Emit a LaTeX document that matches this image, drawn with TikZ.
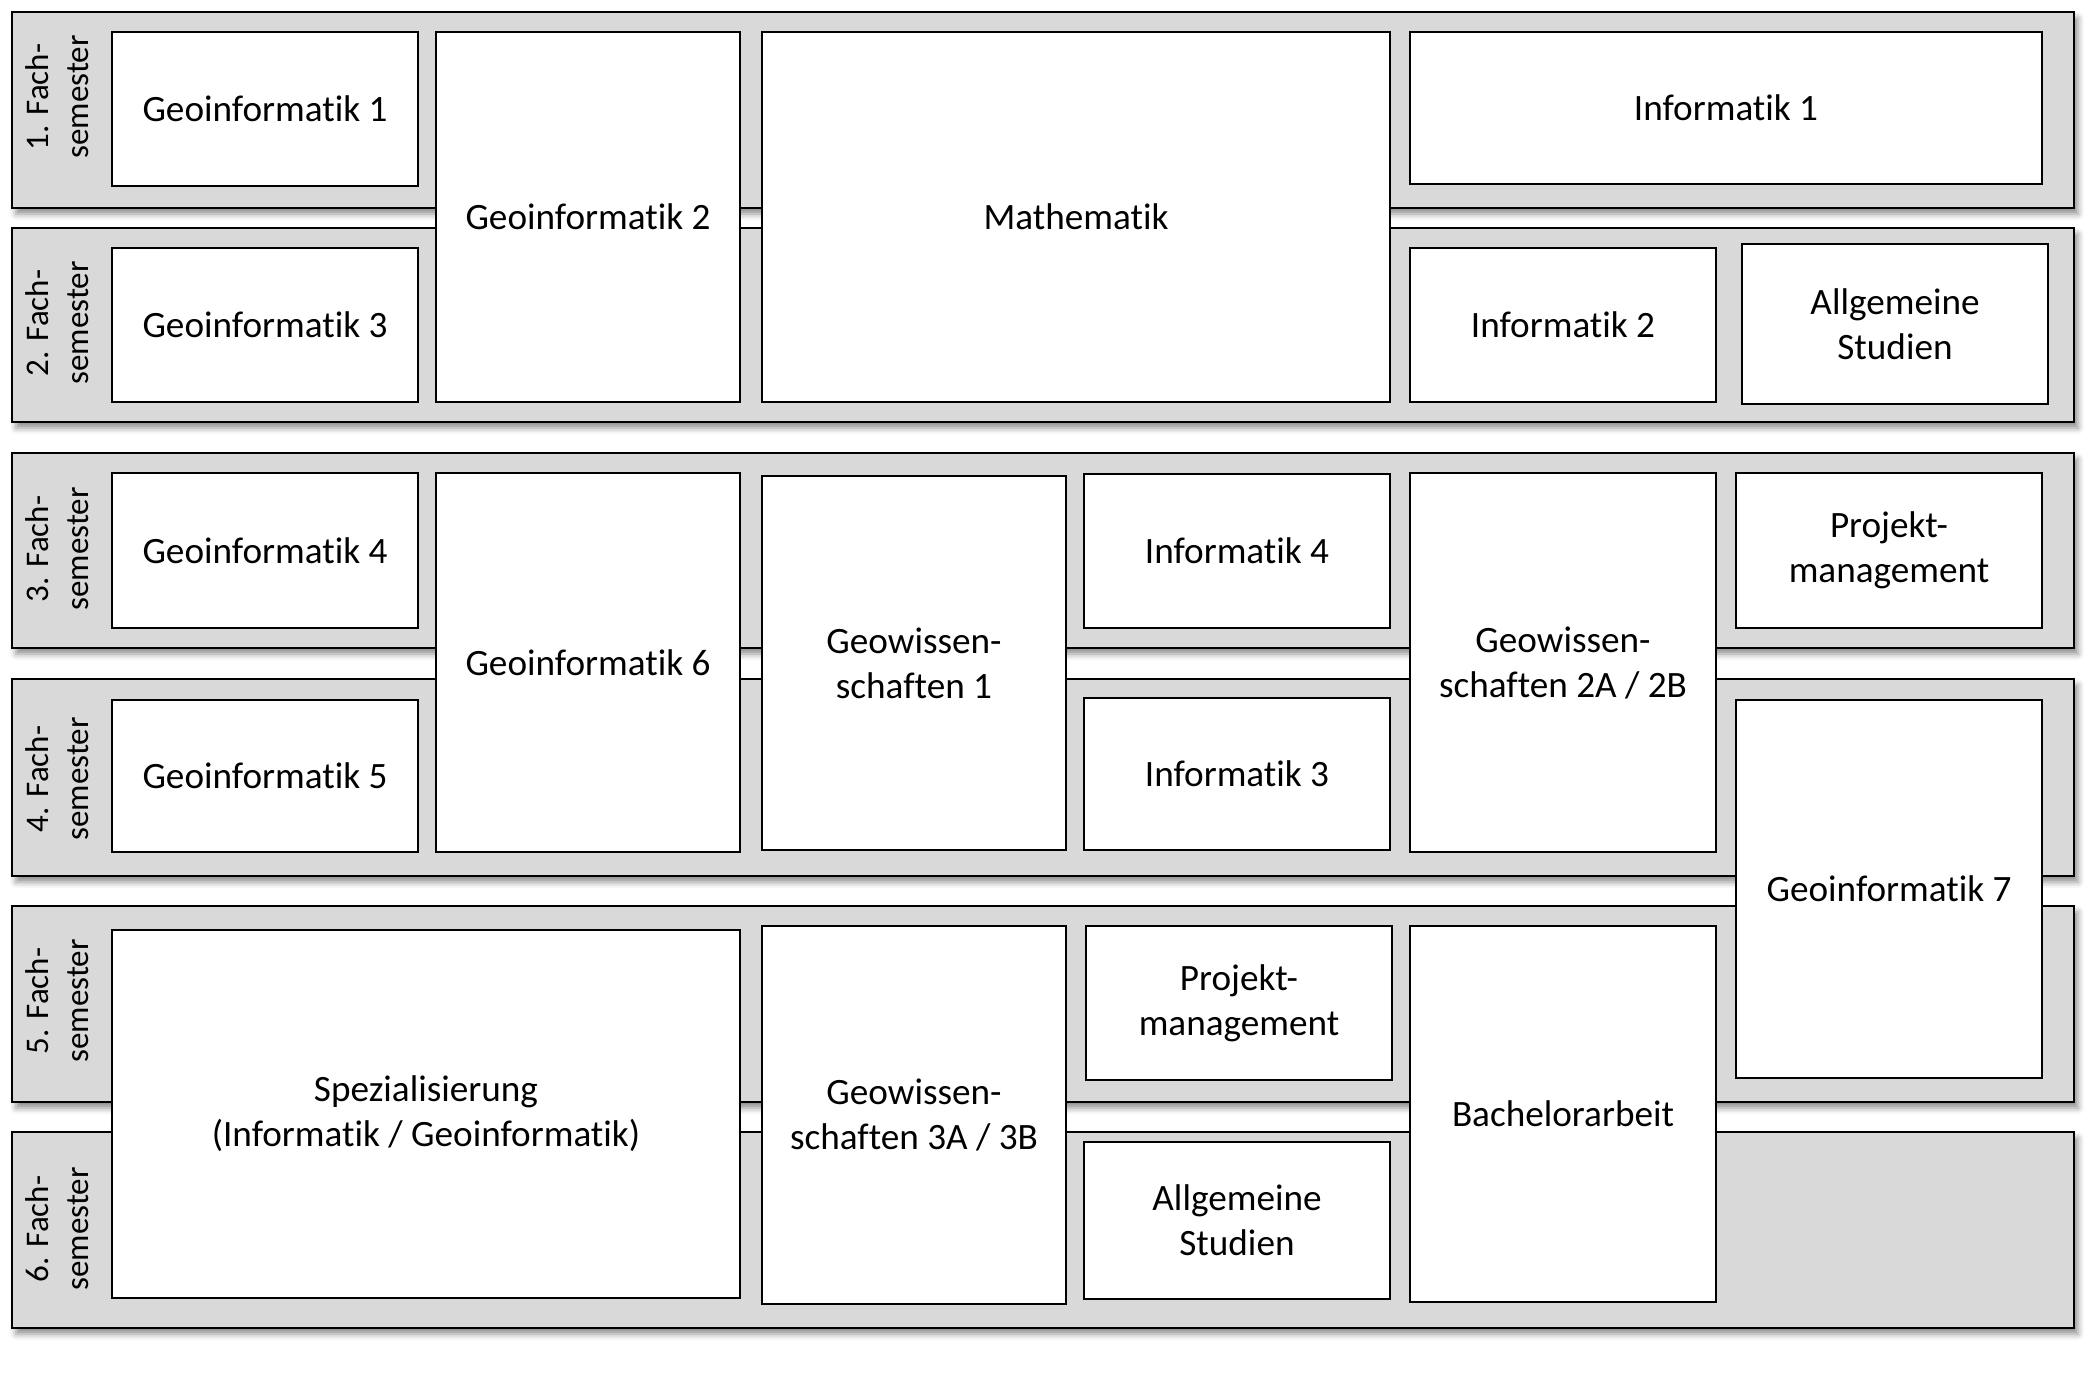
\documentclass[tikz,border=0pt]{standalone}
\usepackage{fontspec}
\setmainfont{Carlito}[RawFeature={-liga;-dlig;-clig;-calt}]
\usetikzlibrary{shadows.blur}
\definecolor{bandgray}{HTML}{D9D9D9}
\tikzset{
  band/.style={draw=black, line width=1.2pt, fill=bandgray, inner sep=0pt,
    blur shadow={shadow xshift=2pt, shadow yshift=-3pt, shadow blur radius=3pt, shadow opacity=45}},
  modbox/.style={draw=black, line width=1.15pt, fill=white, inner sep=0pt, align=center,
    font=\fontsize{18.6}{22.5}\selectfont},
  semlabel/.style={rotate=90, align=center, inner sep=0pt,
    font=\fontsize{16.5}{20}\selectfont}
}
\newcommand\placebox[7]{%
  \pgfmathsetmacro\mw{(#5-#3)*0.5}%
  \pgfmathsetmacro\mh{(#6-#4)*0.5}%
  \node[#2, minimum width=\mw pt, minimum height=\mh pt] (#1) at ({(#3+#5)/2},{(#4+#6)/2}) {#7};}
\begin{document}
\begin{tikzpicture}[x=0.5pt, y=-0.5pt]
\useasboundingbox (0,0) rectangle (2098,1378);
% semester bands
\placebox{b1}{band}{12}{12}{2074}{208}{}
\placebox{b2}{band}{12}{228}{2074}{422}{}
\placebox{b3}{band}{12}{453}{2074}{648}{}
\placebox{b4}{band}{12}{679}{2074}{876}{}
\placebox{b5}{band}{12}{906}{2074}{1102}{}
\placebox{b6}{band}{12}{1132}{2074}{1328}{}
% semester labels
\node[semlabel] (l1) at (57.5,97) {1. Fach-\\semester};
\node[semlabel] (l2) at (57.5,323) {2. Fach-\\semester};
\node[semlabel] (l3) at (57.5,549) {3. Fach-\\semester};
\node[semlabel] (l4) at (57.5,779) {4. Fach-\\semester};
\node[semlabel] (l5) at (57.5,1001) {5. Fach-\\semester};
\node[semlabel] (l6) at (57.5,1229) {6. Fach-\\semester};
% modules
\placebox{geo1}{modbox}{112}{32}{418}{186}{Geoinformatik 1}
\placebox{geo3}{modbox}{112}{248}{418}{402}{Geoinformatik 3}
\placebox{geo2}{modbox}{436}{32}{740}{402}{Geoinformatik 2}
\placebox{math}{modbox}{762}{32}{1390}{402}{Mathematik}
\placebox{inf1}{modbox}{1410}{32}{2042}{184}{Informatik 1}
\placebox{inf2}{modbox}{1410}{248}{1716}{402}{Informatik 2}
\placebox{as2}{modbox}{1742}{244}{2048}{404}{Allgemeine\\Studien}
\placebox{geo4}{modbox}{112}{473}{418}{628}{Geoinformatik 4}
\placebox{geo5}{modbox}{112}{700}{418}{852}{Geoinformatik 5}
\placebox{geo6}{modbox}{436}{473}{740}{852}{Geoinformatik 6}
\placebox{gw1}{modbox}{762}{476}{1066}{850}{Geowissen-\\schaften 1}
\placebox{inf4}{modbox}{1084}{474}{1390}{628}{Informatik 4}
\placebox{inf3}{modbox}{1084}{698}{1390}{850}{Informatik 3}
\placebox{gw2}{modbox}{1410}{473}{1716}{852}{Geowissen-\\schaften 2A / 2B}
\placebox{pm3}{modbox}{1736}{473}{2042}{628}{Projekt-\\management}
\placebox{geo7}{modbox}{1736}{700}{2042}{1078}{Geoinformatik 7}
\placebox{spez}{modbox}{112}{930}{740}{1298}{Spezialisierung\\(Informatik / Geoinformatik)}
\placebox{gw3}{modbox}{762}{926}{1066}{1304}{Geowissen-\\schaften 3A / 3B}
\placebox{pm5}{modbox}{1086}{926}{1392}{1080}{Projekt-\\management}
\placebox{as6}{modbox}{1084}{1142}{1390}{1299}{Allgemeine\\Studien}
\placebox{ba}{modbox}{1410}{926}{1716}{1302}{Bachelorarbeit}
\end{tikzpicture}
\end{document}
